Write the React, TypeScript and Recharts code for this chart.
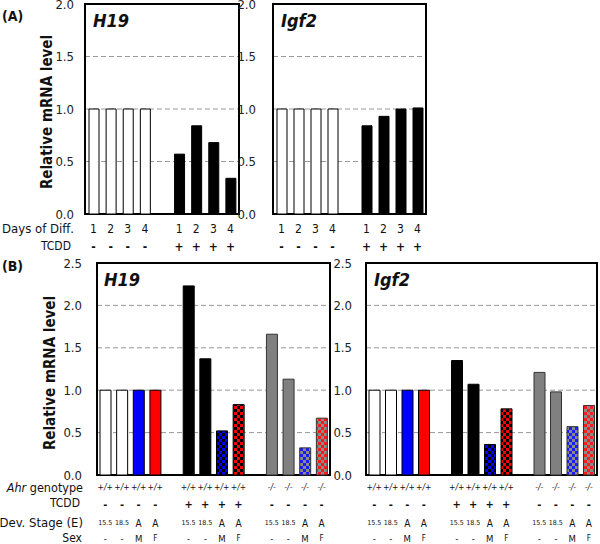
import React from 'react';
import { BarChart, Bar, Cell, XAxis, YAxis, CartesianGrid, ReferenceArea } from 'recharts';

const FONT = '"DejaVu Sans Condensed", "DejaVu Sans", "Liberation Sans", sans-serif';

// (A) days of differentiation, with / without TCDD
const daysA = ['1', '2', '3', '4', '', '1', '2', '3', '4'];
const tcddA = ['-', '-', '-', '-', '', '+', '+', '+', '+'];
const fillA = ['white', 'white', 'white', 'white', '', 'black', 'black', 'black', 'black'];
const h19A = [1, 1, 1, 1, null, 0.57, 0.84, 0.68, 0.34];
const igf2A = [1, 1, 1, 1, null, 0.84, 0.93, 1.0, 1.01];

// (B) Ahr genotype / TCDD / stage / sex
const genotypeB = ['+/+', '+/+', '+/+', '+/+', '', '+/+', '+/+', '+/+', '+/+', '', '-/-', '-/-', '-/-', '-/-'];
const tcddB = ['-', '-', '-', '-', '', '+', '+', '+', '+', '', '-', '-', '-', '-'];
const stageB = ['15.5', '18.5', 'A', 'A', '', '15.5', '18.5', 'A', 'A', '', '15.5', '18.5', 'A', 'A'];
const sexB = ['-', '-', 'M', 'F', '', '-', '-', 'M', 'F', '', '-', '-', 'M', 'F'];
const fillB = ['white', 'white', 'blue', 'red', '', 'black', 'black', 'blueBlack', 'redBlack', '', 'gray', 'gray', 'blueGray', 'redGray'];
const h19B = [1, 1, 1, 1, null, 2.23, 1.37, 0.52, 0.83, null, 1.66, 1.13, 0.32, 0.67];
const igf2B = [1, 1, 1, 1, null, 1.35, 1.07, 0.36, 0.78, null, 1.21, 0.98, 0.57, 0.82];

const FILLS: Record<string, string> = {
  white: '#ffffff',
  black: '#000000',
  gray: '#808080',
  blue: '#0000ff',
  red: '#ff0000',
  blueBlack: 'url(#chkBlueBlack)',
  redBlack: 'url(#chkRedBlack)',
  blueGray: 'url(#chkBlueGray)',
  redGray: 'url(#chkRedGray)',
};

const INK = '#111';

const build = (values: (number | null)[], fills: string[]) =>
  values.map((v, i) => ({ id: i, value: v, fill: fills[i] }));

const tickA = (p: any) => {
  const i = Number(p.payload.value);
  return (
    <g>
      <text x={p.x} y={p.y + 15} textAnchor="middle" dominantBaseline="central" fontSize={12} fill={INK} fontFamily={FONT}>
        {daysA[i]}
      </text>
      <text x={p.x} y={p.y + 33} textAnchor="middle" dominantBaseline="central" fontSize={12} fill={INK} fontFamily={FONT} fontWeight="bold">
        {tcddA[i]}
      </text>
    </g>
  );
};

const tickB = (p: any) => {
  const i = Number(p.payload.value);
  const st = stageB[i];
  return (
    <g fill={INK} fontFamily={FONT}>
      <text x={p.x} y={p.y + 12} textAnchor="middle" dominantBaseline="central" fontSize={8.5} fontStyle="italic">
        {genotypeB[i]}
      </text>
      <text x={p.x} y={p.y + 29} textAnchor="middle" dominantBaseline="central" fontSize={11} fontWeight="bold">
        {tcddB[i]}
      </text>
      <text x={p.x} y={p.y + 48} textAnchor="middle" dominantBaseline="central" fontSize={st === 'A' ? 10 : 7}>
        {st}
      </text>
      <text x={p.x} y={p.y + 63} textAnchor="middle" dominantBaseline="central" fontSize={sexB[i] === 'F' ? 8 : 9.5}>
        {sexB[i]}
      </text>
    </g>
  );
};

interface PanelProps {
  left: number;
  top: number;
  width: number;
  height: number;
  yWidth: number;
  marginTop: number;
  marginRight: number;
  xHeight: number;
  data: { id: number; value: number | null; fill: string }[];
  yMax: number;
  ticks: number[];
  tickMargin: number;
  barSize: number;
  tick: (p: any) => React.ReactElement;
}

function Panel(props: PanelProps) {
  const { left, top, width, height, yWidth, marginTop, marginRight, xHeight, data, yMax, ticks, tickMargin, barSize, tick } = props;
  return (
    <div style={{ position: 'absolute', left, top }}>
      <BarChart width={width} height={height} data={data} margin={{ top: marginTop, right: marginRight, bottom: 0, left: 0 }}>
        <CartesianGrid vertical={false} strokeDasharray="5 3" stroke="#999" />
        <XAxis dataKey="id" type="category" height={xHeight} interval={0} tickLine={false} axisLine={false} tickSize={0} tickMargin={0} tick={tick} />
        <YAxis
          width={yWidth}
          domain={[0, yMax]}
          ticks={ticks}
          tickFormatter={(v: number) => v.toFixed(1)}
          tickLine={false}
          axisLine={false}
          tickMargin={tickMargin}
          tick={{ fontSize: 13, fill: '#222', fontFamily: FONT }}
          interval={0}
        />
        <Bar dataKey="value" barSize={barSize} isAnimationActive={false}>
          {data.map((d) => (
            <Cell
              key={d.id}
              fill={FILLS[d.fill] || 'none'}
              stroke={d.fill === 'gray' || d.fill.endsWith('Gray') ? '#333' : '#000'}
              strokeWidth={1}
            />
          ))}
        </Bar>
        <ReferenceArea y1={0} y2={yMax} fill="none" stroke="#000" strokeWidth={2} />
      </BarChart>
    </div>
  );
}

const txt = (s: React.CSSProperties): React.CSSProperties => ({ position: 'absolute', whiteSpace: 'nowrap', color: INK, ...s });

export default function App() {
  return (
    <div style={{ position: 'absolute', left: 0, top: 0, width: 600, height: 544, background: '#fff', fontFamily: FONT, overflow: 'hidden' }}>
      <svg width={0} height={0} style={{ position: 'absolute' }}>
        <defs>
          {[
            ['chkBlueBlack', '#0000ff', '#000000'],
            ['chkRedBlack', '#ff0000', '#000000'],
            ['chkBlueGray', '#1a1aff', '#8a8a8a'],
            ['chkRedGray', '#ff1a1a', '#8a8a8a'],
          ].map(([id, a, b]) => (
            <pattern key={id} id={id} width={6} height={6} patternUnits="userSpaceOnUse">
              <rect x={0} y={0} width={6} height={6} fill={b} />
              <rect x={0} y={0} width={3} height={3} fill={a} />
              <rect x={3} y={3} width={3} height={3} fill={a} />
            </pattern>
          ))}
        </defs>
      </svg>

      {/* (A) */}
      <Panel left={0} top={0} width={241} height={264} yWidth={85} marginTop={4} marginRight={2} xHeight={50}
        data={build(h19A, fillA)} yMax={2} ticks={[0, 0.5, 1, 1.5, 2]} tickMargin={5} barSize={10} tick={tickA} />
      <Panel left={233} top={0} width={195} height={264} yWidth={40} marginTop={4} marginRight={2} xHeight={50}
        data={build(igf2A, fillA)} yMax={2} ticks={[0, 0.5, 1, 1.5, 2]} tickMargin={11} barSize={10} tick={tickA} />

      {/* (B) */}
      <Panel left={0} top={250} width={332} height={295} yWidth={97} marginTop={13} marginRight={2} xHeight={70}
        data={build(h19B, fillB)} yMax={2.5} ticks={[0, 0.5, 1, 1.5, 2, 2.5]} tickMargin={9} barSize={11} tick={tickB} />
      <Panel left={326} top={250} width={274} height={295} yWidth={40} marginTop={13} marginRight={3} xHeight={70}
        data={build(igf2B, fillB)} yMax={2.5} ticks={[0, 0.5, 1, 1.5, 2, 2.5]} tickMargin={8} barSize={11} tick={tickB} />

      <div style={txt({ left: 2, top: 8, fontSize: 14, fontWeight: 'bold' })}>(A)</div>
      <div style={txt({ left: 2, top: 258, fontSize: 14, fontWeight: 'bold' })}>(B)</div>

      <div style={txt({ left: 93, top: 10, fontSize: 18, fontWeight: 'bold', fontStyle: 'italic' })}>H19</div>
      <div style={txt({ left: 281, top: 10, fontSize: 18, fontWeight: 'bold', fontStyle: 'italic' })}>Igf2</div>
      <div style={txt({ left: 104, top: 269, fontSize: 18, fontWeight: 'bold', fontStyle: 'italic' })}>H19</div>
      <div style={txt({ left: 374, top: 269, fontSize: 18, fontWeight: 'bold', fontStyle: 'italic' })}>Igf2</div>

      <div style={txt({ left: 47, top: 112, fontSize: 15, fontWeight: 'bold', transform: 'translate(-50%, -50%) rotate(-90deg)' })}>Relative mRNA level</div>
      <div style={txt({ left: 50, top: 373, fontSize: 15, fontWeight: 'bold', transform: 'translate(-50%, -50%) rotate(-90deg)' })}>Relative mRNA level</div>

      <div style={txt({ right: 600 - 74, top: 228, fontSize: 13, transform: 'translateY(-50%)' })}>Days of Diff.</div>
      <div style={txt({ right: 600 - 71, top: 246, fontSize: 12, transform: 'translateY(-50%)' })}>TCDD</div>

      <div style={txt({ right: 600 - 83, top: 487, fontSize: 12.5, transform: 'translateY(-50%)' })}><i>Ahr</i> genotype</div>
      <div style={txt({ right: 600 - 80, top: 503, fontSize: 12, transform: 'translateY(-50%)' })}>TCDD</div>
      <div style={txt({ right: 600 - 83, top: 522, fontSize: 13, transform: 'translateY(-50%)' })}>Dev. Stage (E)</div>
      <div style={txt({ right: 600 - 82, top: 538, fontSize: 12, transform: 'translateY(-50%)' })}>Sex</div>
    </div>
  );
}
